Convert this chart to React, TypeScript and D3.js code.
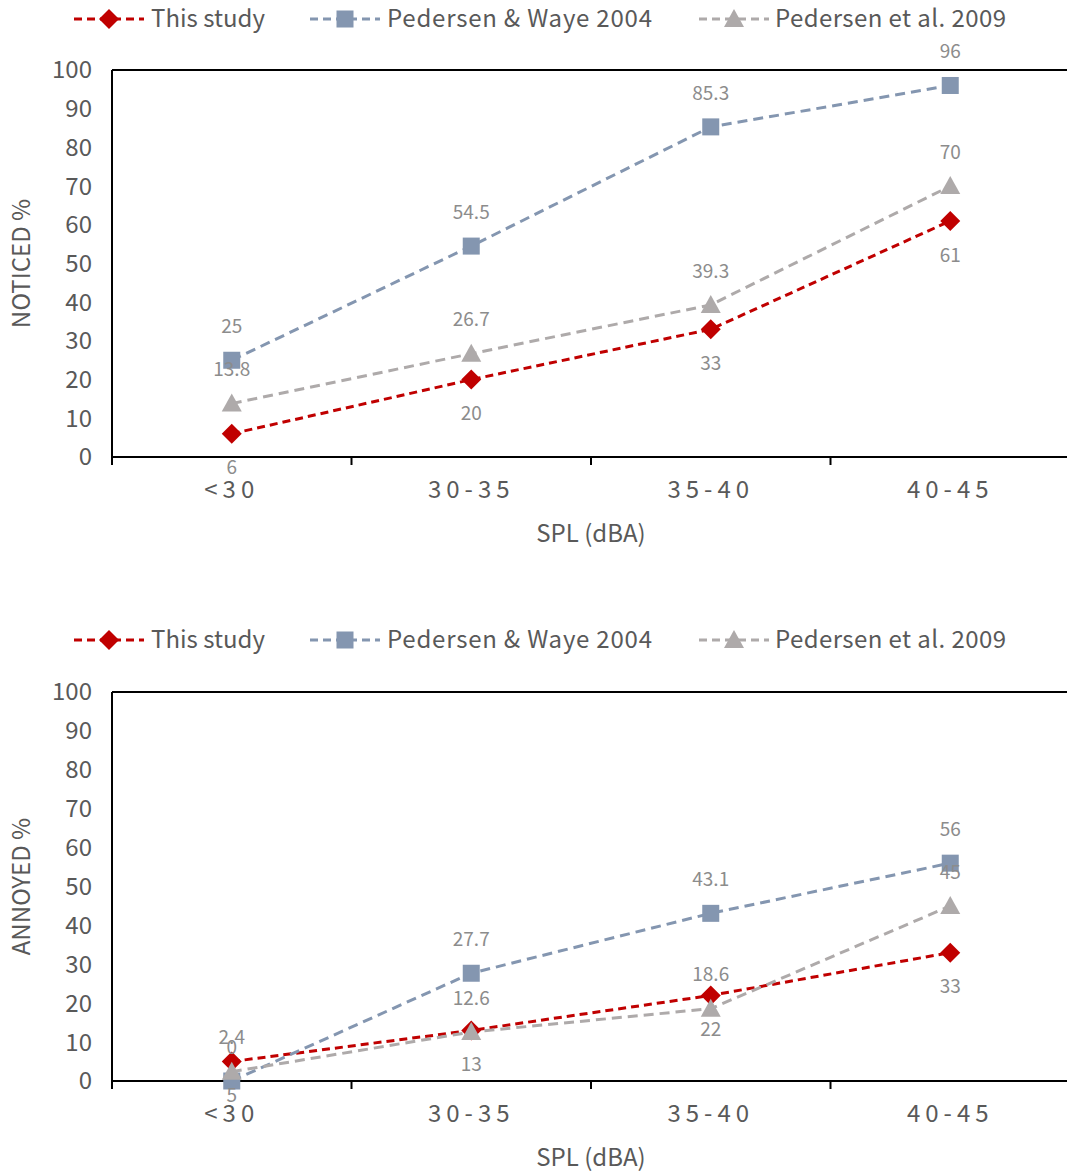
import React from "react";
import * as d3 from "d3";

const categories = ["<30", "30-35", "35-40", "40-45"];
const seriesNames = ["This study", "Pedersen & Waye 2004", "Pedersen et al. 2009"];
const noticedThisStudy = [6, 20, 33, 61];
const noticedWaye2004 = [25, 54.5, 85.3, 96];
const noticedPedersen2009 = [13.8, 26.7, 39.3, 70];
const annoyedThisStudy = [5, 13, 22, 33];
const annoyedWaye2004 = [0, 27.7, 43.1, 56];
const annoyedPedersen2009 = [2.4, 12.6, 18.6, 45];
const yTicks = [0, 10, 20, 30, 40, 50, 60, 70, 80, 90, 100];

const colors = ["#C00000", "#8496B0", "#AEAAAA"];
const markers = ["diamond", "square", "triangle"];
const dashes = ["8,5", "10,6", "10,6"];
const labelPos = ["below", "above", "above"];
const FONT = "'Noto Sans CJK SC', 'Noto Sans', sans-serif";

function Marker({ type, x, y, color }: { type: string; x: number; y: number; color: string }) {
  if (type === "diamond") {
    const s = 10;
    return <path d={`M${x},${y - s}L${x + s},${y}L${x},${y + s}L${x - s},${y}Z`} fill={color} />;
  }
  if (type === "square") {
    const s = 8.5;
    return <rect x={x - s} y={y - s} width={2 * s} height={2 * s} fill={color} />;
  }
  const s = 10;
  return <path d={`M${x},${y - s}L${x + s},${y + s * 0.8}L${x - s},${y + s * 0.8}Z`} fill={color} />;
}

function Legend({ y }: { y: number }) {
  const items = [
    { x0: 74, tx: 151, w: 114 },
    { x0: 310, tx: 387, w: 265 },
    { x0: 699, tx: 775, w: 231 },
  ];
  return (
    <g>
      {items.map((it, i) => (
        <g key={i}>
          <line x1={it.x0} x2={it.x0 + 70} y1={y} y2={y} stroke={colors[i]} strokeWidth={3} strokeDasharray="8,5" />
          <Marker type={markers[i]} x={it.x0 + 35} y={y} color={colors[i]} />
          <text x={it.tx} y={y} dy="0.35em" fontSize={24} fill="#595959" fontFamily={FONT} textLength={it.w} lengthAdjust="spacing">
            {seriesNames[i]}
          </text>
        </g>
      ))}
    </g>
  );
}

function Panel({ top, bottom, yLabel, data, legendY }: { top: number; bottom: number; yLabel: string; data: number[][]; legendY: number }) {
  const left = 112;
  const right = 1070;
  const x = d3.scaleBand().domain(categories).range([left, right]);
  const y = d3.scaleLinear().domain([0, 100]).range([bottom, top]);
  const cx = (c: string) => (x(c) as number) + x.bandwidth() / 2;
  const line = d3
    .line<number>()
    .x((_, i) => cx(categories[i]))
    .y((v) => y(v));
  const boundaries = categories.map((c) => x(c) as number).concat([right - 1]);
  return (
    <g>
      <Legend y={legendY} />
      {yTicks.map((t) => (
        <text key={t} x={92} y={y(t)} dy="0.35em" textAnchor="end" fontSize={24} fill="#595959" fontFamily={FONT}>
          {t}
        </text>
      ))}
      <text
        transform={`translate(${22},${(top + bottom) / 2}) rotate(-90)`}
        textAnchor="middle"
        dy="0.35em"
        fontSize={24}
        fill="#595959"
        fontFamily={FONT}
      >
        {yLabel}
      </text>
      <line x1={left} x2={right} y1={top} y2={top} stroke="#000" strokeWidth={2} />
      <line x1={left} x2={left} y1={top} y2={bottom} stroke="#000" strokeWidth={2} />
      <line x1={left} x2={right} y1={bottom} y2={bottom} stroke="#000" strokeWidth={2} />
      {boundaries.map((b, i) => (
        <line key={i} x1={b} x2={b} y1={bottom} y2={bottom + 8} stroke="#000" strokeWidth={2} />
      ))}
      {categories.map((c) => (
        <text key={c} x={cx(c)} y={bottom + 33} dy="0.35em" textAnchor="middle" fontSize={24} fill="#595959" fontFamily={FONT} letterSpacing={5}>
          {c}
        </text>
      ))}
      <text x={591} y={bottom + 77} dy="0.35em" textAnchor="middle" fontSize={24} fill="#595959" fontFamily={FONT}>
        SPL (dBA)
      </text>
      {data.map((vals, si) => (
        <path key={si} d={line(vals) as string} fill="none" stroke={colors[si]} strokeWidth={3} strokeDasharray={dashes[si]} />
      ))}
      {data.map((vals, si) =>
        vals.map((v, i) => <Marker key={`${si}-${i}`} type={markers[si]} x={cx(categories[i])} y={y(v)} color={colors[si]} />)
      )}
      {data.map((vals, si) =>
        vals.map((v, i) => (
          <text
            key={`l${si}-${i}`}
            x={cx(categories[i])}
            y={y(v) + (labelPos[si] === "above" ? -34 : 34)}
            dy="0.35em"
            textAnchor="middle"
            fontSize={19}
            fill="#8C8C8C"
            fontFamily={FONT}
          >
            {v}
          </text>
        ))
      )}
    </g>
  );
}

export default function App() {
  return (
    <svg width={1067} height={1174} style={{ position: "absolute", left: 0, top: 0, background: "#fff" }}>
      <rect width={1067} height={1174} fill="#fff" />
      <Panel top={70} bottom={457} yLabel="NOTICED %" data={[noticedThisStudy, noticedWaye2004, noticedPedersen2009]} legendY={19} />
      <Panel top={692} bottom={1081} yLabel="ANNOYED %" data={[annoyedThisStudy, annoyedWaye2004, annoyedPedersen2009]} legendY={640} />
    </svg>
  );
}
